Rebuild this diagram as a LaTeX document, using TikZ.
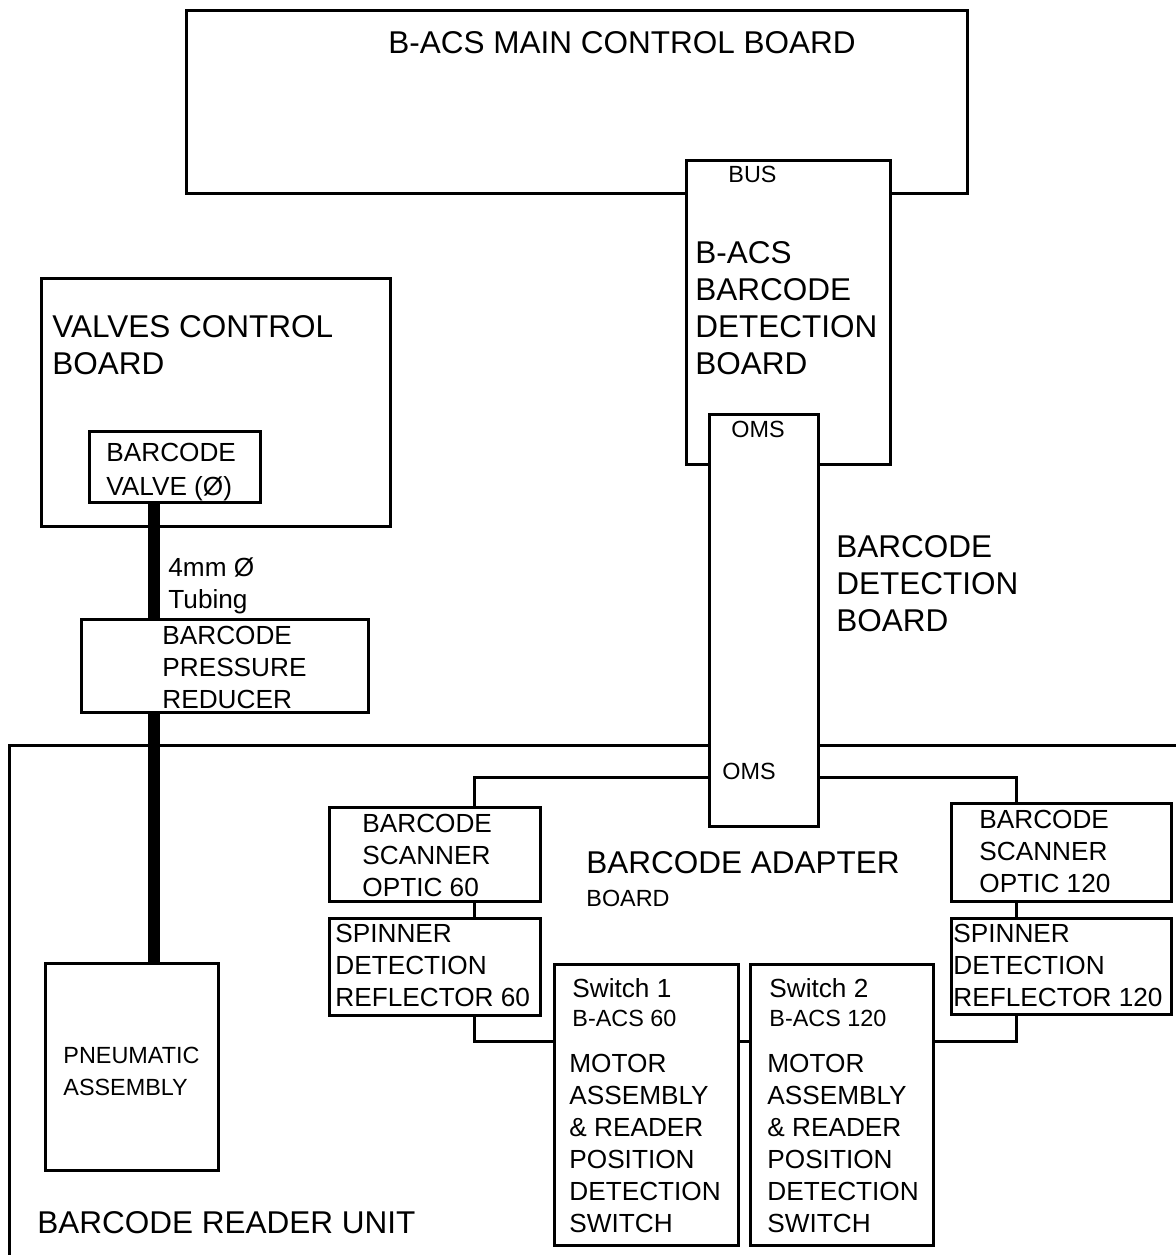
\documentclass[tikz,border=0pt]{standalone}
\usepackage{fontspec}
\setmainfont{Liberation Sans}
\usetikzlibrary{fit}
\tikzset{
  box/.style={draw, line width=1.5pt, fill=white, inner sep=0pt},
  wire/.style={line width=1.5pt},
  tube/.style={line width=6pt},
  big/.style={anchor=north west, inner sep=0pt, align=left, font=\fontsize{15.75}{18.5}\selectfont},
  mid/.style={anchor=north west, inner sep=0pt, align=left, font=\fontsize{13.1}{16}\selectfont},
  small/.style={anchor=north west, inner sep=0pt, align=left, font=\fontsize{11.7}{14}\selectfont},
}
\begin{document}
\begin{tikzpicture}[x=0.5pt, y=-0.5pt]
	\useasboundingbox (0,0) rectangle (1176,1255);
	\coordinate (tap) at (0,777);
	\coordinate (link) at (0,1041);
	\coordinate (col60) at (474,0);
	\coordinate (col120) at (1016,0);
	\coordinate (pipe) at (154,0);

	% reader unit outline
	\draw[wire] (9,1262) -- (9,745) -- (1182,745);
	\node[big] (unit) at (37,1211) {BARCODE READER UNIT};

	% main board and barcode detection boards
	\node[box, fit={(186,10) (967,193)}] (main) {};
	\node[big] (main-txt) at (388,31) {B-ACS MAIN CONTROL BOARD};
	\node[box, fit={(686,160) (890,464)}] (bdb) {};
	\node[small] (bus) at (728,166) {BUS};
	\node[big] (bdb-txt) at (695,241) {B-ACS\\BARCODE\\DETECTION\\BOARD};
	\node[box, fit={(709,414) (818,826)}] (oms) {};
	\node[small] (oms-top) at (731,421) {OMS};
	\node[small] (oms-bot) at (722,763) {OMS};
	\node[big] (det-txt) at (836,535) {BARCODE\\DETECTION\\BOARD};

	% valves and pressure reducer
	\node[box, fit={(41,278) (390,526)}] (valves) {};
	\node[big] (valves-txt) at (52,315) {VALVES CONTROL\\BOARD};
	\node[box, fit={(89,431) (260,502)}] (valve) {};
	\node[mid] (valve-txt) at (106,443) {BARCODE\\[1pt]VALVE (Ø)};
	\node[box, fit={(81,619) (368,712)}] (red) {};
	\node[mid] (red-txt) at (162,626) {BARCODE\\PRESSURE\\REDUCER};
	\node[box, fit={(45,963) (218,1170)}] (pneu) {};
	\node[small] (pneu-txt) at (63,1047) {PNEUMATIC\\[2pt]ASSEMBLY};
	\draw[tube] (pipe |- valve.south) -- (pipe |- red.north);
	\draw[tube] (pipe |- red.south) -- (pipe |- pneu.north);
	\node[mid] (tubing) at (168,557) {4mm Ø\\Tubing};

	% adapter board
	\node[big] (adapter) at (586,851) {BARCODE ADAPTER};
	\node[small] (adapter-b) at (586,890) {BOARD};
	\node[box, fit={(329,807) (540,901)}] (scan60) {};
	\node[mid] (scan60-txt) at (362,814) {BARCODE\\SCANNER\\OPTIC 60};
	\node[box, fit={(329,918) (540,1015)}] (spin60) {};
	\node[mid] (spin60-txt) at (335,924) {SPINNER\\DETECTION\\REFLECTOR 60};
	\node[box, fit={(951,803) (1171,901)}] (scan120) {};
	\node[mid] (scan120-txt) at (979,810) {BARCODE\\SCANNER\\OPTIC 120};
	\node[box, fit={(951,918) (1171,1014)}] (spin120) {};
	\node[mid] (spin120-txt) at (953,924) {SPINNER\\DETECTION\\REFLECTOR 120};

	\node[box, fit={(554,964) (738,1245)}] (sw1) {};
	\node[mid] (sw1-name) at (572,978) {Switch 1};
	\node[small] (sw1-id) at (572,1010) {B-ACS 60};
	\node[mid] (sw1-txt) at (569,1054) {MOTOR\\ASSEMBLY\\\& READER\\POSITION\\DETECTION\\SWITCH};
	\node[box, fit={(750,964) (933,1245)}] (sw2) {};
	\node[mid] (sw2-name) at (769,978) {Switch 2};
	\node[small] (sw2-id) at (769,1010) {B-ACS 120};
	\node[mid] (sw2-txt) at (767,1054) {MOTOR\\ASSEMBLY\\\& READER\\POSITION\\DETECTION\\SWITCH};

	% wiring
	\draw[wire] (oms.west |- tap) -| (col60 |- scan60.north);
	\draw[wire] (col60 |- scan60.south) -- (col60 |- spin60.north);
	\draw[wire] (col60 |- spin60.south) |- (sw1.west |- link);
	\draw[wire] (sw1.east |- link) -- (sw2.west |- link);
	\draw[wire] (sw2.east |- link) -| (col120 |- spin120.south);
	\draw[wire] (col120 |- spin120.north) -- (col120 |- scan120.south);
	\draw[wire] (oms.east |- tap) -| (col120 |- scan120.north);
\end{tikzpicture}
\end{document}
